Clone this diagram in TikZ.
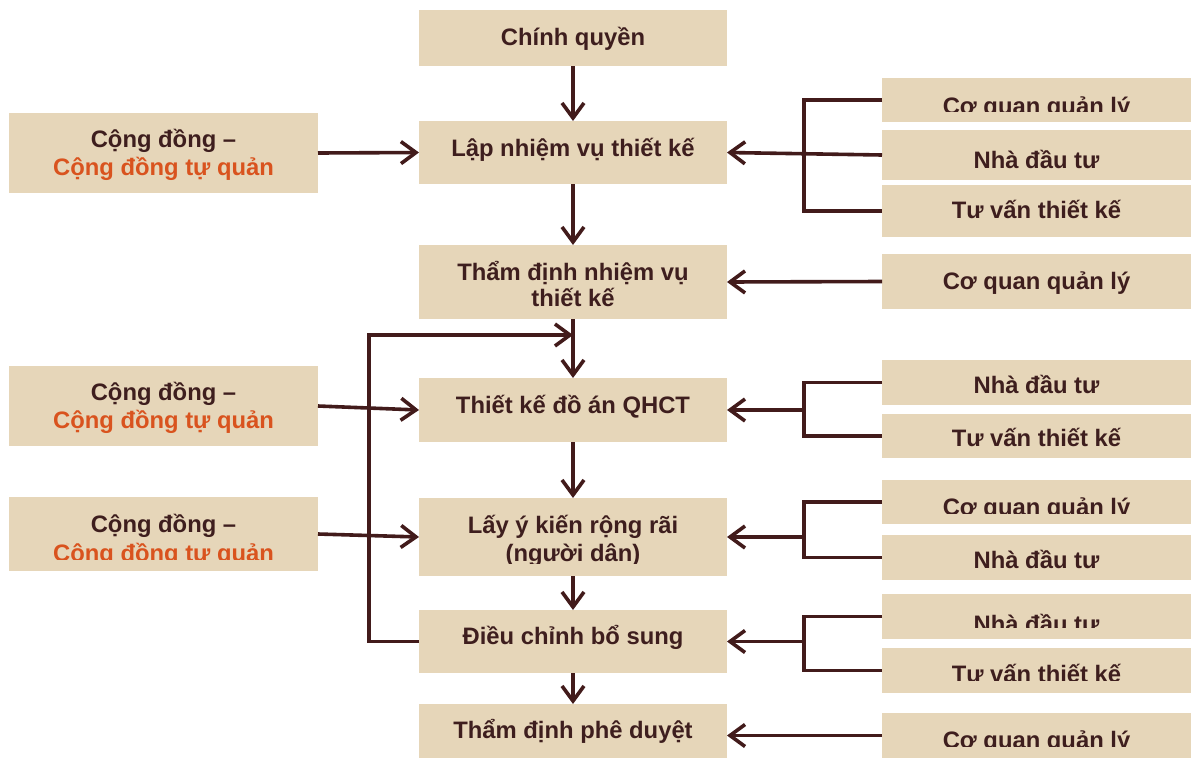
\documentclass[tikz,border=0pt]{standalone}
\usepackage{fontspec}
\setmainfont{Liberation Sans}
\usetikzlibrary{arrows.meta,calc}
\definecolor{boxc}{RGB}{230,214,185}
\definecolor{textc}{RGB}{62,30,30}
\definecolor{linec}{RGB}{66,27,27}
\definecolor{orangec}{RGB}{217,83,30}
\begin{document}
\begin{tikzpicture}[x=1pt,y=-1pt,
  box/.style={fill=boxc,draw=none,inner sep=0pt,outer sep=0pt},
  midbox/.style={box,minimum width=308},
  sidebox/.style={box,minimum width=309},
  txt/.style={anchor=base,inner sep=0pt,text=textc,font=\fontsize{23.8}{28}\selectfont\bfseries},
  org/.style={txt,text=orangec},
  conn/.style={draw=linec,line width=3.6pt,line join=miter},
  arr/.style={conn,-{Straight Barb[length=15pt,width=22pt,line width=3.6pt]}}]
\useasboundingbox (0,0) rectangle (1192,758);

% centre column
\node[midbox,minimum height=56] (cq)  at (573,38) {};
\node[midbox,minimum height=63] (lap) at (573,152.5) {};
\node[midbox,minimum height=74] (tdn) at (573,282) {};
\node[midbox,minimum height=64] (tk)  at (573,410) {};
\node[midbox,minimum height=78] (lay) at (573,537) {};
\node[midbox,minimum height=63] (dc)  at (573,641.5) {};
\node[midbox,minimum height=54] (pd)  at (573,731) {};

% community boxes on the left
\node[sidebox,minimum height=80] (L1) at (163.5,153) {};
\node[sidebox,minimum height=80] (L2) at (163.5,406) {};
\node[sidebox,minimum height=74] (L3) at (163.5,534) {};

% stakeholder boxes on the right
\node[sidebox,minimum height=44] (R1)  at (1036.5,100) {};
\node[sidebox,minimum height=50] (R2)  at (1036.5,155) {};
\node[sidebox,minimum height=52] (R3)  at (1036.5,211) {};
\node[sidebox,minimum height=55] (R4)  at (1036.5,281.5) {};
\node[sidebox,minimum height=45] (R5)  at (1036.5,382.5) {};
\node[sidebox,minimum height=44] (R6)  at (1036.5,436) {};
\node[sidebox,minimum height=44] (R7)  at (1036.5,502) {};
\node[sidebox,minimum height=45] (R8)  at (1036.5,557.5) {};
\node[sidebox,minimum height=45] (R9)  at (1036.5,616.5) {};
\node[sidebox,minimum height=45] (R10) at (1036.5,670.5) {};
\node[sidebox,minimum height=45] (R11) at (1036.5,735.5) {};

% labels, centre column
\node[txt] (tcq)  at (573,45)  {Chính quyền};
\node[txt] (tlap) at (573,156) {Lập nhiệm vụ thiết kế};
\node[txt] (ttdn1) at (573,280) {Thẩm định nhiệm vụ};
\node[txt] (ttdn2) at (573,306) {thiết kế};
\node[txt] (ttk)  at (573,413) {Thiết kế đồ án QHCT};
\node[txt] (tlay1) at (573,533) {Lấy ý kiến rộng rãi};
\begin{scope}
  \clip (419,540) rectangle (727,563);
  \node[txt] (tlay2) at (573,561) {(người dân)};
\end{scope}
\node[txt] (tdc)  at (573,644) {Điều chỉnh bổ sung};
\node[txt] (tpd)  at (573,738) {Thẩm định phê duyệt};

% labels, left
\node[txt] (tL1a) at (163.5,147) {Cộng đồng –};
\node[org] (tL1b) at (163.5,175) {Cộng đồng tự quản};
\node[txt] (tL2a) at (163.5,400) {Cộng đồng –};
\node[org] (tL2b) at (163.5,428) {Cộng đồng tự quản};
\node[txt] (tL3a) at (163.5,532) {Cộng đồng –};
\begin{scope}
  \clip (9,537) rectangle (318,559);
  \node[org] (tL3b) at (163.5,561) {Cộng đồng tự quản};
\end{scope}

% labels, right
\begin{scope}
  \clip (882,78) rectangle (1191,111);
  \node[txt] (tR1) at (1036.5,114) {Cơ quan quản lý};
\end{scope}
\node[txt] (tR2) at (1036.5,168) {Nhà đầu tư};
\node[txt] (tR3) at (1036.5,218) {Tư vấn thiết kế};
\node[txt] (tR4) at (1036.5,289) {Cơ quan quản lý};
\node[txt] (tR5) at (1036.5,393) {Nhà đầu tư};
\node[txt] (tR6) at (1036.5,446) {Tư vấn thiết kế};
\begin{scope}
  \clip (882,480) rectangle (1191,513);
  \node[txt] (tR7) at (1036.5,515) {Cơ quan quản lý};
\end{scope}
\node[txt] (tR8) at (1036.5,568) {Nhà đầu tư};
\begin{scope}
  \clip (882,594) rectangle (1191,627);
  \node[txt] (tR9) at (1036.5,632) {Nhà đầu tư};
\end{scope}
\begin{scope}
  \clip (882,648) rectangle (1191,680);
  \node[txt] (tR10) at (1036.5,682) {Tư vấn thiết kế};
\end{scope}
\begin{scope}
  \clip (882,713) rectangle (1191,746);
  \node[txt] (tR11) at (1036.5,748) {Cơ quan quản lý};
\end{scope}

% main flow
\draw[arr] (cq)  -- (lap);
\draw[arr] (lap) -- (tdn);
\draw[arr] (tdn) -- (tk);
\draw[arr] (tk)  -- (lay);
\draw[arr] (lay) -- (dc);
\draw[arr] (dc)  -- (pd);

% community input
\draw[arr] (L1.east) -- (lap.west);
\draw[arr] (L2.east) -- (tk.west);
\draw[arr] (L3.east) -- (lay.west);

% feedback loop from revision back to design
\coordinate (lp) at (369,335);
\draw[arr] (dc.west) -| (lp) -- (lp -| tdn.south);

% stakeholder brackets
\coordinate (j1) at (804,155);
\draw[conn] (R1.west) -| (j1) |- (R3.west);
\draw[arr] (R2.west) -- (lap.east);
\draw[arr] (R4.west) -- (tdn.east);
\coordinate (j2) at (804,410);
\draw[conn] (R5.west) -| (j2) |- (R6.west);
\draw[arr] (j2) -- (tk.east);
\coordinate (j3) at (804,537);
\draw[conn] (R7.west) -| (j3) |- (R8.west);
\draw[arr] (j3) -- (lay.east);
\coordinate (j4) at (804,641.5);
\draw[conn] (R9.west) -| (j4) |- (R10.west);
\draw[arr] (j4) -- (dc.east);
\draw[arr] (R11.west) -- (R11.west -| pd.east);
\end{tikzpicture}
\end{document}
